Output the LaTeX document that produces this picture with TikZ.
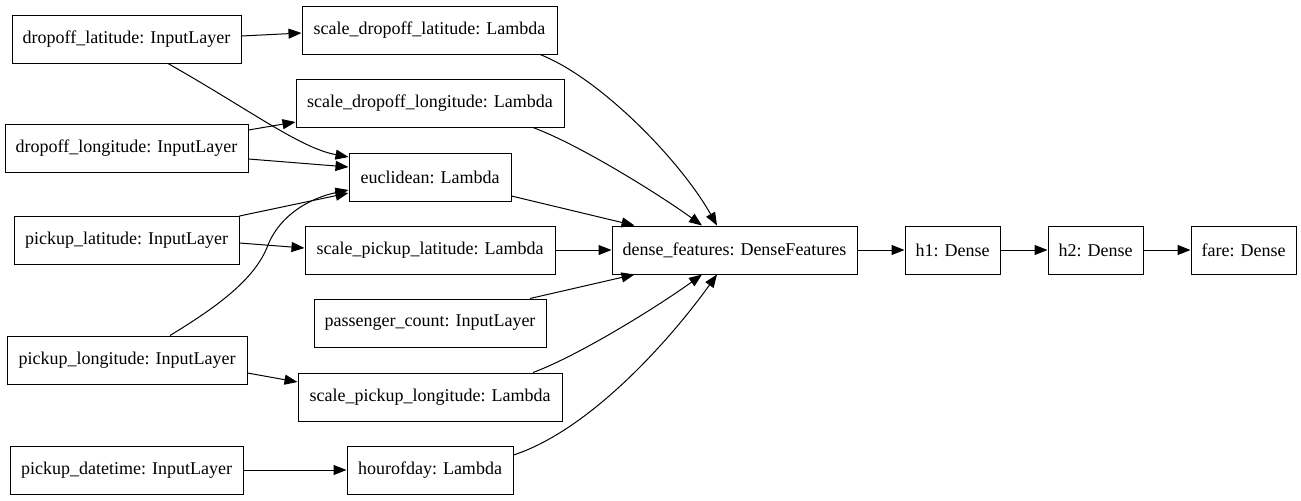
\documentclass[tikz,border=0pt]{standalone}
\usepackage{fontspec}
\setmainfont{Liberation Serif}
\usetikzlibrary{arrows.meta,calc}
\begin{document}
\begin{tikzpicture}[x=0.75pt,y=-0.75pt,
  layer/.style={draw=black,line width=0.75pt,minimum height=36pt,inner sep=0pt,
    font=\fontsize{13.5}{16}\selectfont},
  w/.style={minimum width=#1*0.75pt},
  edge/.style={line width=0.75pt,-{Triangle[length=9.75pt,width=7.5pt]}}]
\useasboundingbox (0,0) rectangle (1301,500);
% nodes
\node[layer,w=229] (dl)   at (126.5,39)   {dropoff\_latitude: InputLayer};
\node[layer,w=255] (sdl)  at (429.5,30)   {scale\_dropoff\_latitude: Lambda};
\node[layer,w=268] (sdlo) at (430,103)    {scale\_dropoff\_longitude: Lambda};
\node[layer,w=243] (dlo)  at (126.5,148.5){dropoff\_longitude: InputLayer};
\node[layer,w=162] (euc)  at (430,177)    {euclidean: Lambda};
\node[layer,w=225] (pla)  at (126.5,240.5){pickup\_latitude: InputLayer};
\node[layer,w=250] (spla) at (430,250)    {scale\_pickup\_latitude: Lambda};
\node[layer,w=232] (pc)   at (430,323)    {passenger\_count: InputLayer};
\node[layer,w=240] (plo)  at (127,360)    {pickup\_longitude: InputLayer};
\node[layer,w=264] (splo) at (430,397)    {scale\_pickup\_longitude: Lambda};
\node[layer,w=233] (pdt)  at (126.5,470)  {pickup\_datetime: InputLayer};
\node[layer,w=166] (hod)  at (430,470)    {hourofday: Lambda};
\node[layer,w=245] (df)   at (734.5,250)  {dense\_features: DenseFeatures};
\node[layer,w=95]  (h1)   at (952.5,250)  {h1: Dense};
\node[layer,w=95]  (h2)   at (1095.5,250) {h2: Dense};
\node[layer,w=105] (fare) at (1243.5,250) {fare: Dense};
% edges
\draw[edge] ($(dl.east)+(0,-3)$) -- ($(sdl.west)+(0,3)$);
\draw[edge] ($(dl.south)+(41.5,0)$) .. controls (250,110) and (300,148) .. ($(euc.west)+(0,-20)$);
\draw[edge] ($(dlo.east)+(0,-18.5)$) -- ($(sdlo.west)+(0,19)$);
\draw[edge] ($(dlo.east)+(0,10.5)$) -- ($(euc.west)+(0,-10)$);
\draw[edge] (pla.north east) -- ($(euc.west)+(0,16)$);
\draw[edge] ($(plo.north)+(43,0)$) .. controls (215,308) and (255,280) .. (268,245)
  .. controls (280,215) and (310,198) .. ($(euc.west)+(0,13)$);
\draw[edge] ($(pla.east)+(0,2.5)$) -- ($(spla.west)+(0,-2)$);
\draw[edge] ($(plo.east)+(0,13)$) -- ($(splo.west)+(0,-15)$);
\draw[edge] (pdt.east) -- (hod.west);
\draw[edge] ($(sdl.south)+(110.5,0)$) .. controls (600,78) and (680,160) .. ($(df.north)+(-17.5,0)$);
\draw[edge] ($(sdlo.south)+(103,0)$) .. controls (580,145) and (660,195) .. ($(df.north)+(-32.5,0)$);
\draw[edge] ($(euc.east)+(0,19)$) -- ($(df.north west)+(23,0)$);
\draw[edge] (spla.east) -- (df.west);
\draw[edge] ($(pc.north)+(100,0)$) -- ($(df.south west)+(23,0)$);
\draw[edge] ($(splo.north)+(103,0)$) .. controls (580,355) and (660,305) .. ($(df.south)+(-32.5,0)$);
\draw[edge] ($(hod.east)+(0,-15)$) .. controls (590,430) and (670,340) .. ($(df.south)+(-17.5,0)$);
\draw[edge] (df.east) -- (h1.west);
\draw[edge] (h1.east) -- (h2.west);
\draw[edge] (h2.east) -- (fare.west);
\end{tikzpicture}
\end{document}
